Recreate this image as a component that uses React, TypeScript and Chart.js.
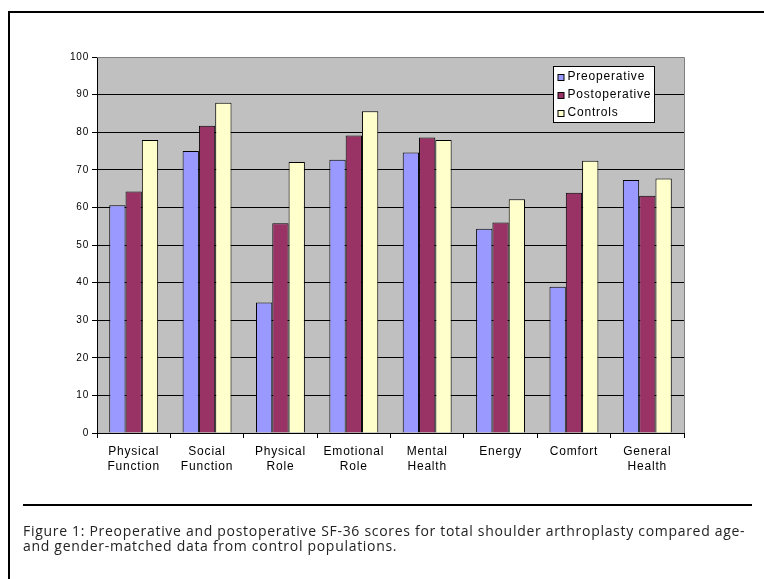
import React, { useEffect, useRef } from "react";
import { Chart, registerables } from "chart.js";

Chart.register(...registerables);

// SF-36 domains (two-line axis labels)
const categories: string[][] = [
  ["Physical", "Function"],
  ["Social", "Function"],
  ["Physical", "Role"],
  ["Emotional", "Role"],
  ["Mental", "Health"],
  ["Energy"],
  ["Comfort"],
  ["General", "Health"],
];

const preoperative = [60.6, 75.0, 34.7, 72.7, 74.6, 54.3, 38.9, 67.3];
const postoperative = [64.2, 81.7, 55.8, 79.1, 78.6, 56.0, 63.9, 63.1];
const controls = [77.9, 87.8, 72.1, 85.6, 77.9, 62.2, 72.4, 67.7];

const seriesNames = ["Preoperative", "Postoperative", "Controls"];
const seriesColors = ["#9999FF", "#993366", "#FFFFCC"];

const yMin = 0;
const yMax = 100;
const yStep = 10;

const captionLines = [
  "Figure 1: Preoperative and postoperative SF-36 scores for total shoulder arthroplasty compared age-",
  "and gender-matched data from control populations.",
];

const FONT = "'Liberation Sans', Arial, sans-serif";
const CAPTION_FONT = "'Open Sans', 'Liberation Sans', sans-serif";
const SPACING = "0.8px";

const decorations = {
  id: "decorations",
  beforeLayout(chart: any) {
    chart.ctx.letterSpacing = SPACING;
  },
  beforeDraw(chart: any) {
    const { ctx, chartArea, width, height } = chart;
    ctx.save();
    ctx.fillStyle = "#FFFFFF";
    ctx.fillRect(0, 0, width, height);
    ctx.fillStyle = "#C0C0C0";
    ctx.fillRect(
      chartArea.left,
      chartArea.top,
      chartArea.right - chartArea.left,
      chartArea.bottom - chartArea.top
    );
    ctx.restore();
    ctx.letterSpacing = SPACING;
  },
  afterDraw(chart: any) {
    const { ctx, chartArea } = chart;
    ctx.save();
    // plot-area outline (top and right)
    ctx.strokeStyle = "#808080";
    ctx.lineWidth = 1;
    ctx.beginPath();
    ctx.moveTo(chartArea.left, chartArea.top + 0.5);
    ctx.lineTo(chartArea.right + 0.5, chartArea.top + 0.5);
    ctx.lineTo(chartArea.right + 0.5, chartArea.bottom);
    ctx.stroke();

    // figure frame and caption rule
    ctx.fillStyle = "#000000";
    ctx.fillRect(8, 11, chart.width - 8, 2);
    ctx.fillRect(8, 11, 2, chart.height - 11);
    ctx.fillRect(23, 504, 729, 2);

    // legend
    const bx = chartArea.right - 29.5;
    const boxW = 101;
    const boxX = bx - boxW;
    const boxY = chartArea.top + 9.5;
    const boxH = 56;
    ctx.fillStyle = "#FFFFFF";
    ctx.fillRect(boxX, boxY, boxW, boxH);
    ctx.strokeStyle = "#000000";
    ctx.strokeRect(boxX, boxY, boxW, boxH);
    ctx.font = `12px ${FONT}`;
    ctx.letterSpacing = SPACING;
    ctx.textBaseline = "middle";
    ctx.textAlign = "left";
    chart.data.datasets.forEach((ds: any, i: number) => {
      const cy = boxY + 10 + i * 18.3;
      ctx.fillStyle = ds.backgroundColor;
      ctx.fillRect(boxX + 4.5, Math.round(cy) - 2.5, 6, 6);
      ctx.strokeStyle = "#000000";
      ctx.strokeRect(boxX + 4.5, Math.round(cy) - 2.5, 6, 6);
      ctx.fillStyle = "#000000";
      ctx.fillText(ds.label, boxX + 14, cy);
    });
    ctx.restore();
  },
};

export default function App() {
  const canvasRef = useRef<HTMLCanvasElement | null>(null);

  useEffect(() => {
    document.body.style.margin = "0";
    const canvas = canvasRef.current!;
    const values = [preoperative, postoperative, controls];
    const chart = new Chart(canvas, {
      type: "bar",
      data: {
        labels: categories,
        datasets: values.map((v, i) => ({
          label: seriesNames[i],
          data: v,
          backgroundColor: seriesColors[i],
          borderColor: "#000000",
          borderWidth: 1,
          categoryPercentage: 3 / 4.5,
          barPercentage: 1,
        })),
      },
      options: {
        responsive: false,
        animation: false,
        devicePixelRatio: 1,
        layout: { padding: { left: 0, top: 57, right: 80, bottom: 0 } },
        plugins: {
          legend: { display: false },
          tooltip: { enabled: false },
          title: { display: false },
        },
        scales: {
          x: {
            offset: true,
            grid: {
              offset: true,
              drawOnChartArea: false,
              drawTicks: true,
              tickLength: 5,
              color: "#000000",
            },
            border: { display: true, color: "#000000" },
            ticks: {
              color: "#000000",
              padding: 6,
              maxRotation: 0,
              autoSkip: false,
              font: { family: FONT, size: 12, lineHeight: 1.25 },
            },
            afterFit(scale: any) {
              scale.height = 146;
            },
          },
          y: {
            min: yMin,
            max: yMax,
            grid: {
              color: (c: any) => (c.tick && c.tick.value === yMax ? "#808080" : "#000000"),
              tickColor: "#000000",
              tickLength: 5,
            },
            border: { display: true, color: "#000000" },
            ticks: {
              stepSize: yStep,
              color: "#000000",
              padding: 3,
              font: { family: FONT, size: 10 },
            },
            afterFit(scale: any) {
              scale.width = 97;
            },
          },
        },
      },
      plugins: [decorations],
    });
    return () => chart.destroy();
  }, []);

  return (
    <div>
      <canvas
        ref={canvasRef}
        width={764}
        height={579}
        style={{ position: "fixed", left: 0, top: 0, width: 764, height: 579 }}
      />
      <div
        style={{
          position: "fixed",
          left: 23,
          top: 524,
          fontFamily: CAPTION_FONT,
          fontSize: 14,
          lineHeight: "14.5px",
          letterSpacing: "0.7px",
          color: "#222222",
          whiteSpace: "nowrap",
        }}
      >
        {captionLines.map((line, i) => (
          <div key={i}>{line}</div>
        ))}
      </div>
    </div>
  );
}
